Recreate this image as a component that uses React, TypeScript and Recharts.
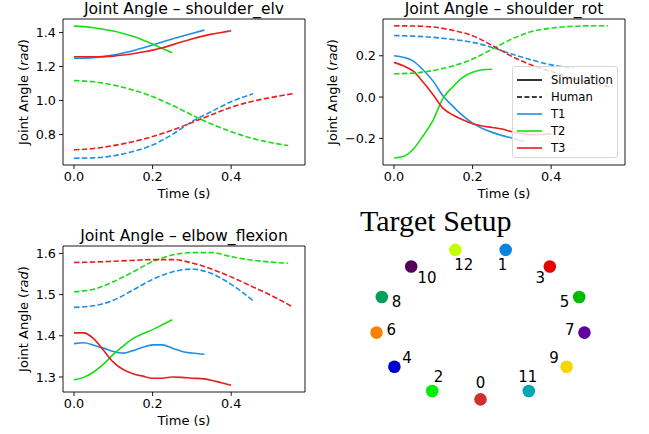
import React from 'react';
import {
  LineChart, Line, XAxis, YAxis, ReferenceArea,
  ScatterChart, Scatter,
} from 'recharts';

// time stamps (s)
const simTimeT1 = [0, 0.025, 0.05, 0.075, 0.1, 0.125, 0.15, 0.175, 0.2, 0.225, 0.25, 0.275, 0.3, 0.332];
const simTimeT2 = [0, 0.025, 0.05, 0.075, 0.1, 0.125, 0.15, 0.175, 0.2, 0.225, 0.25];
const simTimeT3 = [0, 0.025, 0.05, 0.075, 0.1, 0.125, 0.15, 0.175, 0.2, 0.225, 0.25, 0.275, 0.3, 0.325, 0.35, 0.375, 0.4];
const humTimeT1 = [0, 0.05, 0.1, 0.15, 0.2, 0.25, 0.3, 0.35, 0.4, 0.456];
const humTimeT2 = [0, 0.05, 0.1, 0.15, 0.2, 0.25, 0.3, 0.35, 0.4, 0.45, 0.5, 0.545];
const humTimeT3 = [0, 0.05, 0.1, 0.15, 0.2, 0.25, 0.3, 0.35, 0.4, 0.45, 0.5, 0.557];

// shoulder_elv (rad)
const elvSimT1 = [1.248, 1.249, 1.252, 1.258, 1.267, 1.279, 1.293, 1.309, 1.326, 1.344, 1.361, 1.378, 1.394, 1.414];
const elvSimT2 = [1.437, 1.434, 1.428, 1.419, 1.408, 1.394, 1.377, 1.356, 1.332, 1.306, 1.281];
const elvSimT3 = [1.257, 1.257, 1.257, 1.258, 1.261, 1.267, 1.275, 1.285, 1.296, 1.310, 1.327, 1.345, 1.362, 1.377, 1.390, 1.400, 1.410];
const elvHumT1 = [0.661, 0.663, 0.675, 0.700, 0.739, 0.800, 0.876, 0.935, 0.993, 1.040];
const elvHumT2 = [1.117, 1.110, 1.091, 1.062, 1.023, 0.972, 0.915, 0.862, 0.817, 0.780, 0.753, 0.735];
const elvHumT3 = [0.710, 0.718, 0.735, 0.758, 0.788, 0.826, 0.870, 0.916, 0.960, 0.993, 1.017, 1.040];

// shoulder_rot (rad)
const rotSimT1 = [0.200, 0.192, 0.173, 0.130, 0.076, 0.005, -0.045, -0.090, -0.126, -0.152, -0.171, -0.186, -0.198, -0.215];
const rotSimT2 = [-0.295, -0.287, -0.250, -0.185, -0.110, -0.005, 0.050, 0.095, 0.120, 0.132, 0.135];
const rotSimT3 = [0.168, 0.150, 0.124, 0.070, 0.010, -0.055, -0.087, -0.110, -0.129, -0.140, -0.147, -0.155, -0.168, -0.177, -0.182, -0.181, -0.179];
const rotHumT1 = [0.298, 0.295, 0.289, 0.279, 0.265, 0.240, 0.208, 0.180, 0.156, 0.140];
const rotHumT2 = [0.113, 0.116, 0.129, 0.150, 0.184, 0.232, 0.281, 0.317, 0.334, 0.342, 0.345, 0.345];
const rotHumT3 = [0.345, 0.344, 0.339, 0.323, 0.297, 0.250, 0.197, 0.155, 0.124, 0.093, 0.068, 0.048];

// elbow_flexion (rad)
const elbSimT1 = [1.381, 1.383, 1.377, 1.370, 1.362, 1.358, 1.364, 1.372, 1.378, 1.378, 1.370, 1.362, 1.358, 1.355];
const elbSimT2 = [1.293, 1.299, 1.312, 1.331, 1.355, 1.375, 1.393, 1.405, 1.415, 1.427, 1.439];
const elbSimT3 = [1.407, 1.407, 1.393, 1.365, 1.336, 1.318, 1.308, 1.302, 1.297, 1.297, 1.300, 1.299, 1.297, 1.296, 1.292, 1.286, 1.280];
const elbHumT1 = [1.469, 1.473, 1.486, 1.511, 1.537, 1.555, 1.562, 1.551, 1.525, 1.485];
const elbHumT2 = [1.507, 1.513, 1.531, 1.555, 1.580, 1.596, 1.602, 1.602, 1.592, 1.584, 1.579, 1.576];
const elbHumT3 = [1.578, 1.579, 1.581, 1.583, 1.585, 1.585, 1.577, 1.562, 1.543, 1.521, 1.499, 1.470];

const trialNames = ['T1', 'T2', 'T3'];
const trialColors = ['#1f8fe6', '#16dd16', '#e61e1e'];
const xTicks = [0, 0.2, 0.4];

// targets
const targetIds = [0, 1, 2, 3, 4, 5, 6, 7, 8, 9, 10, 11, 12];
const targetX = [0.0, 0.24, -0.46, 0.66, -0.82, 0.94, -0.99, 0.99, -0.94, 0.82, -0.66, 0.46, -0.24];
const targetY = [-1.0, 0.97, -0.89, 0.75, -0.57, 0.35, -0.12, -0.12, 0.35, -0.57, 0.75, -0.89, 0.97];
const labelX = [0.0, 0.21, -0.40, 0.57, -0.70, 0.80, -0.85, 0.85, -0.80, 0.70, -0.51, 0.45, -0.16];
const labelY = [-0.79, 0.77, -0.70, 0.60, -0.45, 0.28, -0.09, -0.09, 0.28, -0.45, 0.60, -0.70, 0.77];
const targetColors = ['#d0302f', '#0a84e0', '#00ee00', '#e80000', '#0000cc', '#00bb00', '#ff8000', '#6000a0', '#00a05c', '#f5d400', '#550058', '#00a8b4', '#c4ff00'];

const X_DOMAIN: [number, number] = [-0.028, 0.588];
const FONT = 'DejaVu Sans';

const pts = (ts: number[], vs: number[]) => ts.map((t, i) => ({ t, v: vs[i] }));
const fmt = (v: number) => (v < 0 ? '\u2212' : '') + Math.abs(v).toFixed(1);

interface PanelProps {
  left: number;
  top: number;
  height: number;
  marginTop: number;
  xAxisHeight: number;
  title: string;
  yDomain: [number, number];
  yTicks: number[];
  yLabelX: number;
  sim: number[][];
  hum: number[][];
  legend?: boolean;
}

const Legend = () => (
  <div style={{
    position: 'absolute', left: 512, top: 66, width: 106, height: 92, boxSizing: 'border-box',
    background: 'rgba(255,255,255,0.8)', border: '1px solid #d6d6d6', borderRadius: 3,
    padding: '4px 0 0 4px', fontFamily: FONT, fontSize: 11.6, color: '#000',
  }}>
    {[{ name: 'Simulation', color: '#000', dash: '' }, { name: 'Human', color: '#000', dash: '5 2.4' },
      ...trialNames.map((n, i) => ({ name: n, color: trialColors[i], dash: '' }))].map((e) => (
      <div key={e.name} style={{ display: 'flex', alignItems: 'center', height: 17.1 }}>
        <svg width={25} height={10} style={{ marginRight: 9 }}>
          <line x1={0} y1={5} x2={25} y2={5} stroke={e.color} strokeWidth={1.6} strokeDasharray={e.dash} />
        </svg>
        <span>{e.name}</span>
      </div>
    ))}
  </div>
);

const JointPanel: React.FC<PanelProps> = (p) => {
  const plotLeft = p.left + 63;
  const plotW = 242;
  const plotBottom = p.top + p.height - p.xAxisHeight;
  const plotMidY = (p.top + p.marginTop + plotBottom) / 2;
  const simTimes = [simTimeT1, simTimeT2, simTimeT3];
  const humTimes = [humTimeT1, humTimeT2, humTimeT3];
  return (
    <>
      <div style={{
        position: 'absolute', left: plotLeft, top: p.top + p.marginTop - 19, width: plotW,
        textAlign: 'center', fontFamily: FONT, fontSize: 15.6, lineHeight: '18px', color: '#000',
      }}>{p.title}</div>
      <div style={{ position: 'absolute', left: p.left, top: p.top, width: 320, height: p.height }}>
        <LineChart width={320} height={p.height} margin={{ top: p.marginTop, right: 15, bottom: 0, left: 0 }}>
          <XAxis type="number" dataKey="t" domain={X_DOMAIN} ticks={xTicks} tickFormatter={fmt}
            height={p.xAxisHeight} axisLine={false} tickSize={4} tickMargin={3}
            tickLine={{ stroke: '#000', strokeWidth: 0.9 }}
            tick={{ fill: '#000', fontSize: 12.8, fontFamily: FONT }} allowDataOverflow />
          <YAxis type="number" domain={p.yDomain} ticks={p.yTicks} tickFormatter={fmt}
            width={63} axisLine={false} tickSize={4} tickMargin={3}
            tickLine={{ stroke: '#000', strokeWidth: 0.9 }}
            tick={{ fill: '#000', fontSize: 12.8, fontFamily: FONT }} allowDataOverflow />
          <ReferenceArea x1={X_DOMAIN[0]} x2={X_DOMAIN[1]} y1={p.yDomain[0]} y2={p.yDomain[1]}
            fill="none" stroke="#000" strokeWidth={0.9} fillOpacity={0} ifOverflow="visible" />
          {trialNames.map((n, i) => (
            <Line key={'s' + n} data={pts(simTimes[i], p.sim[i])} dataKey="v" type="monotone"
              stroke={trialColors[i]} strokeWidth={1.6} dot={false} isAnimationActive={false} />
          ))}
          {trialNames.map((n, i) => (
            <Line key={'h' + n} data={pts(humTimes[i], p.hum[i])} dataKey="v" type="monotone"
              stroke={trialColors[i]} strokeWidth={1.6} strokeDasharray="5.5 2.4" dot={false}
              isAnimationActive={false} />
          ))}
        </LineChart>
      </div>
      <div style={{
        position: 'absolute', left: plotLeft, top: plotBottom + 21, width: plotW, textAlign: 'center',
        fontFamily: FONT, fontSize: 13, lineHeight: '16px', color: '#000',
      }}>Time (s)</div>
      <div style={{
        position: 'absolute', left: p.yLabelX - 80, top: plotMidY - 8, width: 160, textAlign: 'center',
        transform: 'rotate(-90deg)', fontFamily: FONT, fontSize: 13, lineHeight: '16px', color: '#000',
      }}>Joint Angle (<i>rad</i>)</div>
      {p.legend && <Legend />}
    </>
  );
};

const targets = targetIds.map((id, i) => ({ x: targetX[i], y: targetY[i], id, color: targetColors[i] }));
const labels = targetIds.map((id, i) => ({ x: labelX[i], y: labelY[i], id }));

const TargetPanel = () => (
  <>
    <div style={{
      position: 'absolute', left: 360, top: 204.5, fontFamily: 'Liberation Serif', fontSize: 30,
      lineHeight: '32px', color: '#000', whiteSpace: 'nowrap',
    }}>Target Setup</div>
    <div style={{ position: 'absolute', left: 340, top: 200 }}>
      <ScatterChart width={309} height={234} margin={{ top: 40, right: 53, bottom: 27, left: 25 }}>
        <XAxis type="number" dataKey="x" domain={[-1.1, 1.1]} hide allowDataOverflow />
        <YAxis type="number" dataKey="y" domain={[-1.1, 1.1]} hide allowDataOverflow />
        <Scatter data={targets} isAnimationActive={false}
          shape={(s: any) => <circle cx={s.cx} cy={s.cy} r={6.3} fill={s.payload.color} />} />
        <Scatter data={labels} isAnimationActive={false}
          shape={(s: any) => (
            <text x={s.cx} y={s.cy} textAnchor="middle" dominantBaseline="central"
              fontFamily={FONT} fontSize={15} fill="#000">{s.payload.id}</text>
          )} />
      </ScatterChart>
    </div>
  </>
);

export default function App() {
  return (
    <div style={{ position: 'relative', width: 649, height: 434, background: '#fff', overflow: 'hidden' }}>
      <style>{'body{margin:0}'}</style>
      <JointPanel left={0} top={0} height={210} marginTop={19} xAxisHeight={45}
        title="Joint Angle – shoulder_elv" yDomain={[0.621, 1.479]} yTicks={[0.8, 1.0, 1.2, 1.4]}
        yLabelX={24} sim={[elvSimT1, elvSimT2, elvSimT3]} hum={[elvHumT1, elvHumT2, elvHumT3]} />
      <JointPanel left={320} top={0} height={210} marginTop={19} xAxisHeight={45}
        title="Joint Angle – shoulder_rot" yDomain={[-0.329, 0.378]} yTicks={[-0.2, 0, 0.2]}
        yLabelX={333} sim={[rotSimT1, rotSimT2, rotSimT3]} hum={[rotHumT1, rotHumT2, rotHumT3]} legend />
      <JointPanel left={0} top={210} height={224} marginTop={36} xAxisHeight={42}
        title="Joint Angle – elbow_flexion" yDomain={[1.2635, 1.618]} yTicks={[1.3, 1.4, 1.5, 1.6]}
        yLabelX={24} sim={[elbSimT1, elbSimT2, elbSimT3]} hum={[elbHumT1, elbHumT2, elbHumT3]} />
      <TargetPanel />
    </div>
  );
}
